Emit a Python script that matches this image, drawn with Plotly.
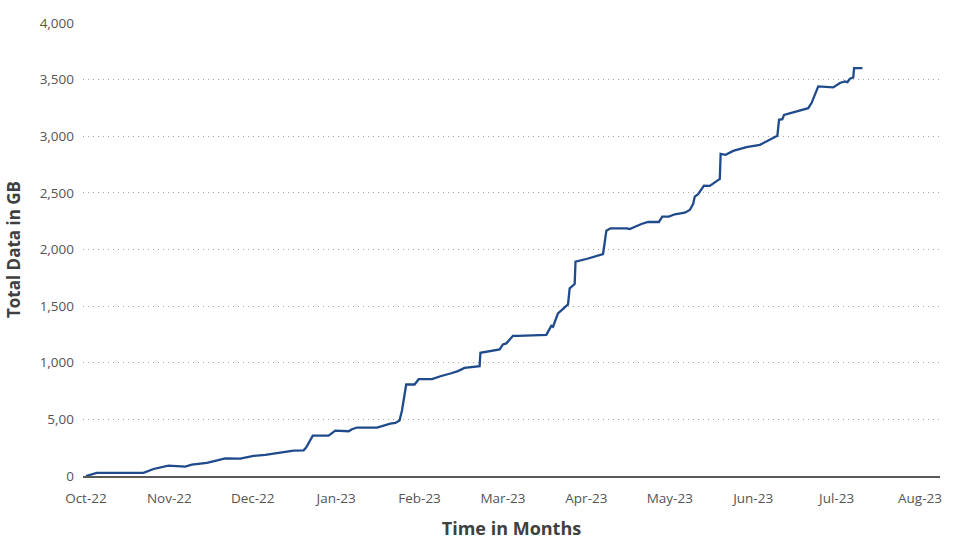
import plotly.graph_objects as go

# Month index: 0 = Oct-22, 1 = Nov-22, ... 10 = Aug-23
month_labels = ["Oct-22", "Nov-22", "Dec-22", "Jan-23", "Feb-23", "Mar-23",
                "Apr-23", "May-23", "Jun-23", "Jul-23", "Aug-23"]

time_months = [0.00, 0.13, 0.69, 0.81, 0.99, 1.09, 1.19, 1.27, 1.45, 1.55,
               1.67, 1.85, 2.01, 2.15, 2.33, 2.49, 2.61, 2.64, 2.72, 2.91,
               2.99, 3.05, 3.15, 3.19, 3.25, 3.49, 3.65, 3.71, 3.76, 3.79,
               3.84, 3.94, 3.99, 4.15, 4.25, 4.37, 4.46, 4.54, 4.72, 4.73,
               4.96, 5.00, 5.04, 5.12, 5.18, 5.52, 5.58, 5.60, 5.66, 5.78,
               5.80, 5.86, 5.87, 6.00, 6.20, 6.24, 6.29, 6.48, 6.52, 6.66,
               6.74, 6.87, 6.91, 6.99, 7.06, 7.18, 7.24, 7.28, 7.30, 7.34,
               7.41, 7.48, 7.54, 7.60, 7.61, 7.67, 7.76, 7.92, 8.08, 8.19,
               8.29, 8.31, 8.35, 8.37, 8.54, 8.62, 8.66, 8.70, 8.78, 8.96,
               9.04, 9.10, 9.13, 9.16, 9.20, 9.21, 9.31]

total_gb = [0, 27, 27, 62, 92, 88, 83, 100, 115, 133,
            156, 154, 177, 186, 203, 224, 227, 251, 357, 357,
            401, 401, 395, 413, 428, 428, 463, 469, 490, 581,
            808, 808, 855, 855, 881, 905, 926, 955, 970, 1088,
            1118, 1162, 1171, 1238, 1238, 1247, 1326, 1318, 1436, 1515,
            1657, 1695, 1892, 1916, 1960, 2166, 2187, 2187, 2181, 2225,
            2243, 2243, 2290, 2290, 2311, 2325, 2349, 2402, 2467, 2488,
            2564, 2562, 2591, 2623, 2844, 2836, 2871, 2904, 2924, 2968,
            3004, 3145, 3151, 3189, 3225, 3242, 3248, 3293, 3440, 3431,
            3470, 3484, 3478, 3508, 3519, 3602, 3602]

y_tickvals = [0, 500, 1000, 1500, 2000, 2500, 3000, 3500, 4000]
y_ticktext = ["0", "5,00", "1,000", "1,500", "2,000", "2,500", "3,000", "3,500", "4,000"]

fig = go.Figure()
fig.add_trace(go.Scatter(
    x=time_months, y=total_gb, mode="lines",
    line=dict(color="#1f4a8c", width=2.3),
    showlegend=False,
))

fig.update_layout(
    width=960, height=540,
    margin=dict(l=83, r=20, t=23, b=64),
    paper_bgcolor="white", plot_bgcolor="white",
    font=dict(family="Open Sans", size=13.5, color="#555555"),
    xaxis=dict(
        range=[-0.035, 10.24], automargin=False,
        tickvals=list(range(len(month_labels))),
        ticktext=month_labels,
        showgrid=False, zeroline=False,
        showline=True, linecolor="#595959", linewidth=1.5,
        ticks="", ticklabelstandoff=9,
        tickfont=dict(size=13.5, color="#555555"),
        title=dict(text="<b>Time in Months</b>",
                   font=dict(size=18, color="#404040"), standoff=16),
    ),
    yaxis=dict(
        range=[0, 4000], automargin=False,
        tickvals=y_tickvals, ticktext=y_ticktext,
        showgrid=True, gridcolor="#a6a6a6", gridwidth=1, griddash="1px,4px",
        zeroline=False, showline=False,
        ticks="", ticklabelstandoff=8,
        tickfont=dict(size=13.5, color="#555555"),
        title=dict(text="<b>Total Data in GB</b>",
                   font=dict(size=17, color="#404040"), standoff=14),
    ),
)

fig.write_html("out.html")
